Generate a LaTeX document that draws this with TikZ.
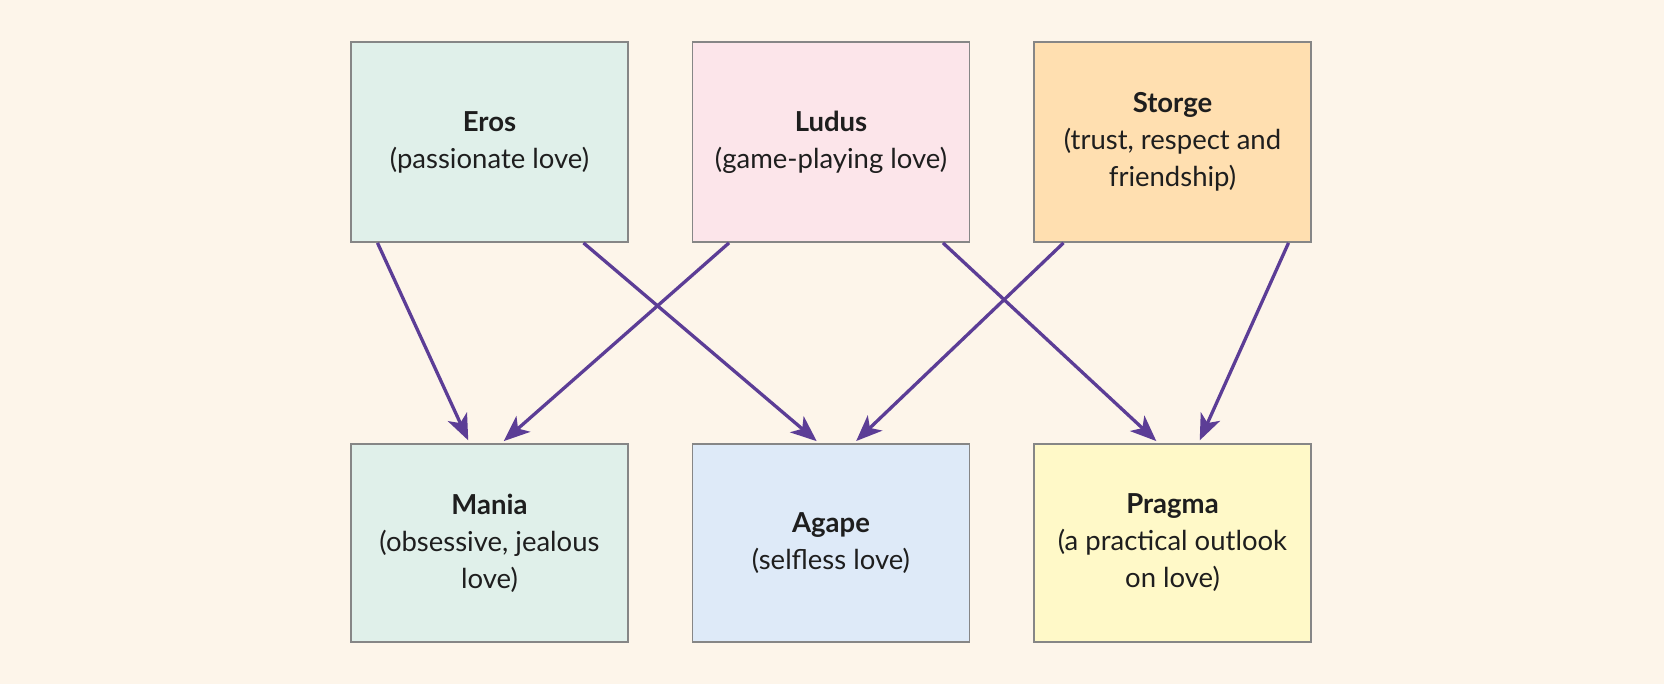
\documentclass[tikz,border=0pt]{standalone}
\usepackage{fontspec}
\setmainfont{Lato}
\usetikzlibrary{arrows.meta}
\definecolor{bgcol}{HTML}{FDF5EA}
\definecolor{erosfill}{HTML}{E0F0EA}
\definecolor{ludusfill}{HTML}{FCE5EA}
\definecolor{storgefill}{HTML}{FFDFB0}
\definecolor{agapefill}{HTML}{DEEAF8}
\definecolor{pragmafill}{HTML}{FFF9C8}
\definecolor{boxline}{HTML}{868686}
\definecolor{arrowcol}{HTML}{5C3D96}
\definecolor{textcol}{HTML}{1E1E1E}

\begin{document}
\begin{tikzpicture}[x=1pt,y=-1pt,
    lovebox/.style={draw=boxline, line width=1.8pt, minimum width=277pt, minimum height=200pt,
        align=center, text=textcol, font=\fontsize{27.5}{37}\selectfont, inner sep=0pt},
    lovearrow/.style={draw=arrowcol, line width=3.3pt, shorten >=3pt,
        -{Stealth[length=26pt, width=21pt, inset=7pt]}}]
                \fill[bgcol] (0,0) rectangle (1664,684);

                \node[lovebox, fill=erosfill] (eros) at (489.5,142) {\textbf{Eros}\\(passionate love)};
                \node[lovebox, fill=ludusfill] (ludus) at (831,142) {\textbf{Ludus}\\(game-playing love)};
                \node[lovebox, fill=storgefill] (storge) at (1172.5,142) {\textbf{Storge}\\(trust, respect and\\friendship)};

                \node[lovebox, fill=erosfill, minimum height=198pt] (mania) at (489.5,543) {\textbf{Mania}\\(obsessive, jealous\\love)};
                \node[lovebox, fill=agapefill, minimum height=198pt] (agape) at (831,543) {\textbf{Agape}\\(selfless love)};
                \node[lovebox, fill=pragmafill, minimum height=198pt] (pragma) at (1172.5,543) {\textbf{Pragma}\\(a practical outlook\\on love)};

                \draw[lovearrow] ([xshift=-112pt]eros.south) -- ([xshift=-20pt]mania.north);
                \draw[lovearrow] ([xshift=94pt]eros.south) -- ([xshift=-12pt]agape.north);
                \draw[lovearrow] ([xshift=-102pt]ludus.south) -- ([xshift=12pt]mania.north);
                \draw[lovearrow] ([xshift=112pt]ludus.south) -- ([xshift=-14pt]pragma.north);
                \draw[lovearrow] ([xshift=-109pt]storge.south) -- ([xshift=23pt]agape.north);
                \draw[lovearrow] ([xshift=116pt]storge.south) -- ([xshift=26pt]pragma.north);
\end{tikzpicture}
\end{document}
